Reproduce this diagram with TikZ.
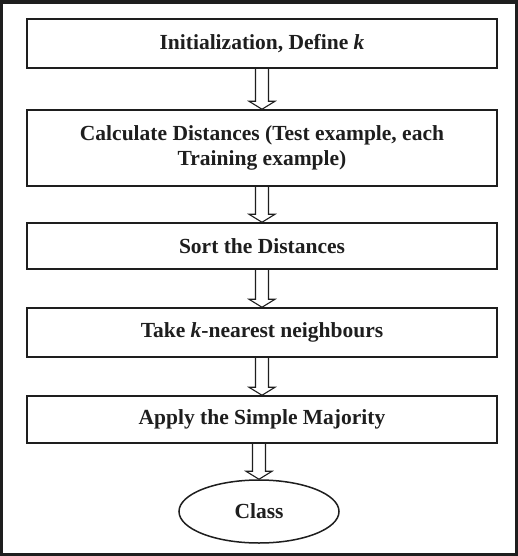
\documentclass[tikz,border=0pt]{standalone}
\usepackage{fontspec}
\setmainfont{Liberation Serif}
\usetikzlibrary{calc,shapes.geometric}
\definecolor{ink}{HTML}{1E1E1E}
\tikzset{
  stepbox/.style={draw=ink, line width=1.5pt, fill=white, minimum width=470pt,
    inner sep=0pt, align=center, text=ink,
    font=\bfseries\fontsize{21.5}{25}\selectfont},
  hollow/.style={draw=ink, line width=1.1pt, line join=miter, to path={
    ($(\tikztostart)+(-6.5pt,0)$) -- ($(\tikztotarget)+(-6.5pt,8pt)$)
    -- ++(-6.5pt,0) -- (\tikztotarget) -- ++(13pt,8pt) -- ++(-6.5pt,0)
    -- ($(\tikztostart)+(6.5pt,0)$)}},
}
\begin{document}
\begin{tikzpicture}[x=1pt,y=-1pt]
  % frame
  \useasboundingbox (0,0) rectangle (518,556);
  \fill[ink] (0,0) rectangle (518,556);
  \fill[white] (3,4) rectangle (515,553);
  % steps
  \node[stepbox, minimum height=49pt] (init) at (262,43.5) {Initialization, Define \textit{k}};
  \node[stepbox, minimum height=76pt] (dist) at (262,148) {Calculate Distances (Test example, each\\ Training example)};
  \node[stepbox, minimum height=46pt] (sort) at (262,246) {Sort the Distances};
  \node[stepbox, minimum height=49pt] (take) at (262,332.5) {Take \textit{k}-nearest neighbours};
  \node[stepbox, minimum height=47pt] (apply) at (262,419.5) {Apply the Simple Majority};
  \node[stepbox, ellipse, minimum width=160pt, minimum height=63pt] (class) at (259,511.5) {Class};
  \draw [hollow] (init.south) to (dist.north);
  \draw [hollow] (dist.south) to (sort.north);
  \draw [hollow] (sort.south) to (take.north);
  \draw [hollow] (take.south) to (apply.north);
  \draw [hollow] (apply.south -| class) to (class.north);
\end{tikzpicture}
\end{document}
